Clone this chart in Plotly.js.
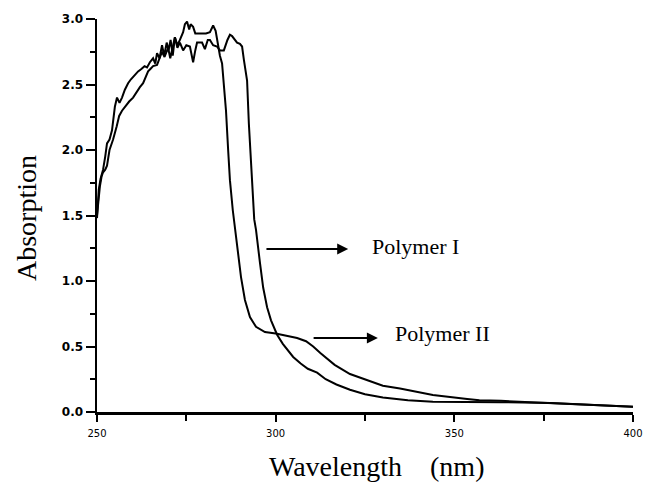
<!DOCTYPE html>
<html>
<head>
<meta charset="utf-8">
<script src="https://cdn.plot.ly/plotly-3.0.1.min.js"></script>
<style>html,body{margin:0;padding:0;background:#fff;}#chart{width:647px;height:482px;}</style>
</head>
<body>
<div id="chart"></div>
<script>
// Polymer I (right curve: later drop, lower tail)
const wlPolymerI = [250.0,250.4,250.8,251.3,251.7,252.3,252.8,253.5,254.5,255.5,256.2,257.0,258.0,259.0,260.1,261.0,262.0,262.9,263.6,264.3,265.0,265.7,266.8,267.5,268.2,268.9,269.9,270.5,271.0,271.8,272.5,273.2,274.1,275.0,276.0,276.9,277.5,278.0,279.4,280.2,281.0,281.6,282.5,283.6,284.4,285.5,286.5,287.2,287.8,288.5,289.2,290.0,290.6,291.1,292.0,292.5,293.1,293.7,294.0,294.5,295.1,295.6,296.5,297.6,298.7,299.8,300.4,302.0,303.5,304.9,307.0,309.0,311.6,314.0,317.0,320.8,325.0,330.0,337.0,344.0,353.0,357.0,363.0,377.0,390.0,400.0];
const absPolymerI = [1.50,1.62,1.72,1.80,1.83,1.85,1.88,2.00,2.08,2.18,2.26,2.30,2.34,2.37,2.40,2.44,2.48,2.51,2.55,2.60,2.62,2.64,2.65,2.70,2.75,2.71,2.78,2.70,2.76,2.86,2.78,2.82,2.76,2.80,2.79,2.67,2.76,2.82,2.82,2.77,2.84,2.84,2.80,2.79,2.76,2.76,2.84,2.88,2.87,2.84,2.82,2.81,2.79,2.69,2.53,2.20,1.90,1.65,1.47,1.39,1.24,1.14,0.95,0.80,0.70,0.62,0.59,0.52,0.47,0.42,0.37,0.33,0.30,0.25,0.21,0.17,0.135,0.11,0.09,0.078,0.076,0.076,0.075,0.068,0.055,0.04];

// Polymer II (left curve: earlier drop, shoulder near 0.6, higher tail)
const wlPolymerII = [250.0,250.5,251.0,251.7,252.3,252.8,253.5,254.2,255.0,255.6,256.3,257.0,257.8,258.7,259.5,260.5,261.5,262.5,263.3,264.0,264.8,265.7,266.3,266.8,267.5,268.2,268.8,269.5,270.0,270.6,271.2,271.8,272.5,273.2,274.1,274.6,275.2,275.8,276.2,276.9,277.5,278.5,279.5,280.5,281.6,282.5,283.2,283.9,284.4,285.0,285.5,286.1,286.7,287.2,288.0,289.0,290.3,291.4,292.8,294.5,297.0,300.0,302.0,304.0,306.0,308.5,310.5,312.5,314.4,316.5,320.8,325.6,330.0,334.8,344.0,353.6,357.0,363.0,377.0,390.0,400.0];
const absPolymerII = [1.48,1.70,1.78,1.85,1.95,2.05,2.08,2.15,2.33,2.40,2.36,2.40,2.46,2.51,2.54,2.57,2.60,2.62,2.64,2.63,2.67,2.70,2.66,2.74,2.70,2.80,2.72,2.82,2.76,2.84,2.72,2.86,2.80,2.84,2.90,2.96,2.98,2.92,2.96,2.94,2.89,2.89,2.89,2.89,2.90,2.95,2.91,2.79,2.72,2.66,2.50,2.30,2.00,1.77,1.54,1.31,1.03,0.855,0.725,0.65,0.61,0.60,0.59,0.58,0.565,0.54,0.50,0.45,0.41,0.36,0.29,0.24,0.20,0.18,0.13,0.10,0.09,0.085,0.07,0.055,0.04];

const seriesNames = ["Polymer I", "Polymer II"];
const xTickVals = [250, 300, 350, 400];
const yTickVals = [0.0, 0.5, 1.0, 1.5, 2.0, 2.5, 3.0];

const lineStyle = {color: '#000', width: 2};
const data = [
  {x: wlPolymerI, y: absPolymerI, type: 'scatter', mode: 'lines', name: seriesNames[0], line: lineStyle},
  {x: wlPolymerII, y: absPolymerII, type: 'scatter', mode: 'lines', name: seriesNames[1], line: lineStyle}
];

const serif = 'Liberation Serif, Times New Roman, serif';
const pw = 647 - 97 - 14, ph = 482 - 19 - 70;
const layout = {
  width: 647, height: 482,
  margin: {l: 97, r: 14, t: 19, b: 70},
  paper_bgcolor: '#fff', plot_bgcolor: '#fff',
  showlegend: false,
  xaxis: {
    range: [250, 400], showgrid: false, zeroline: false,
    showline: true, linecolor: '#000', linewidth: 2.5,
    tickmode: 'array', tickvals: xTickVals, ticktext: xTickVals.map(String),
    ticks: 'outside', ticklen: 7, tickwidth: 2, tickcolor: '#000',
    minor: {dtick: 25, ticklen: 6, tickwidth: 2, tickcolor: '#000', ticks: 'outside', showgrid: false},
    tickfont: {family: 'DejaVu Sans', size: 10, color: '#000'},
    ticklabelstandoff: 3
  },
  yaxis: {
    range: [0, 3.0], showgrid: false, zeroline: false,
    showline: true, linecolor: '#000', linewidth: 2.5,
    tickmode: 'array', tickvals: yTickVals, ticktext: yTickVals.map(v => v.toFixed(1)),
    ticks: 'outside', ticklen: 9, tickwidth: 2, tickcolor: '#000',
    minor: {dtick: 0.25, ticklen: 5, tickwidth: 2, tickcolor: '#000', ticks: 'outside', showgrid: false},
    tickfont: {family: 'DejaVu Sans', size: 12, color: '#000', weight: 'bold'}
  },
  annotations: [
    {x: 320.3, y: 1.244, ax: 297.0, ay: 1.244, axref: 'x', ayref: 'y', xref: 'x', yref: 'y',
     showarrow: true, arrowhead: 2, arrowsize: 1.1, arrowwidth: 2, arrowcolor: '#000', text: ''},
    {x: 328.6, y: 0.565, ax: 310.2, ay: 0.565, axref: 'x', ayref: 'y', xref: 'x', yref: 'y',
     showarrow: true, arrowhead: 2, arrowsize: 1.1, arrowwidth: 2, arrowcolor: '#000', text: ''},
    {x: 326.4, y: 1.26, xref: 'x', yref: 'y', xanchor: 'left', yanchor: 'middle', showarrow: false,
     text: seriesNames[0], font: {family: serif, size: 22, color: '#000'}},
    {x: 332.8, y: 0.60, xref: 'x', yref: 'y', xanchor: 'left', yanchor: 'middle', showarrow: false,
     text: seriesNames[1], font: {family: serif, size: 22, color: '#000'}},
    {x: (376 - 97) / pw, y: (412 - 466) / ph, xref: 'paper', yref: 'paper', xanchor: 'center', yanchor: 'middle', showarrow: false,
     text: 'Wavelength\u00a0\u00a0\u00a0\u00a0(nm)', font: {family: serif, size: 28, color: '#000'}},
    {x: (27 - 97) / pw, y: (412 - 218) / ph, xref: 'paper', yref: 'paper', xanchor: 'center', yanchor: 'middle', showarrow: false, textangle: -90,
     text: 'Absorption', font: {family: serif, size: 28, color: '#000'}}
  ]
};

Plotly.newPlot('chart', data, layout, {displayModeBar: false, staticPlot: true});
</script>
</body>
</html>
